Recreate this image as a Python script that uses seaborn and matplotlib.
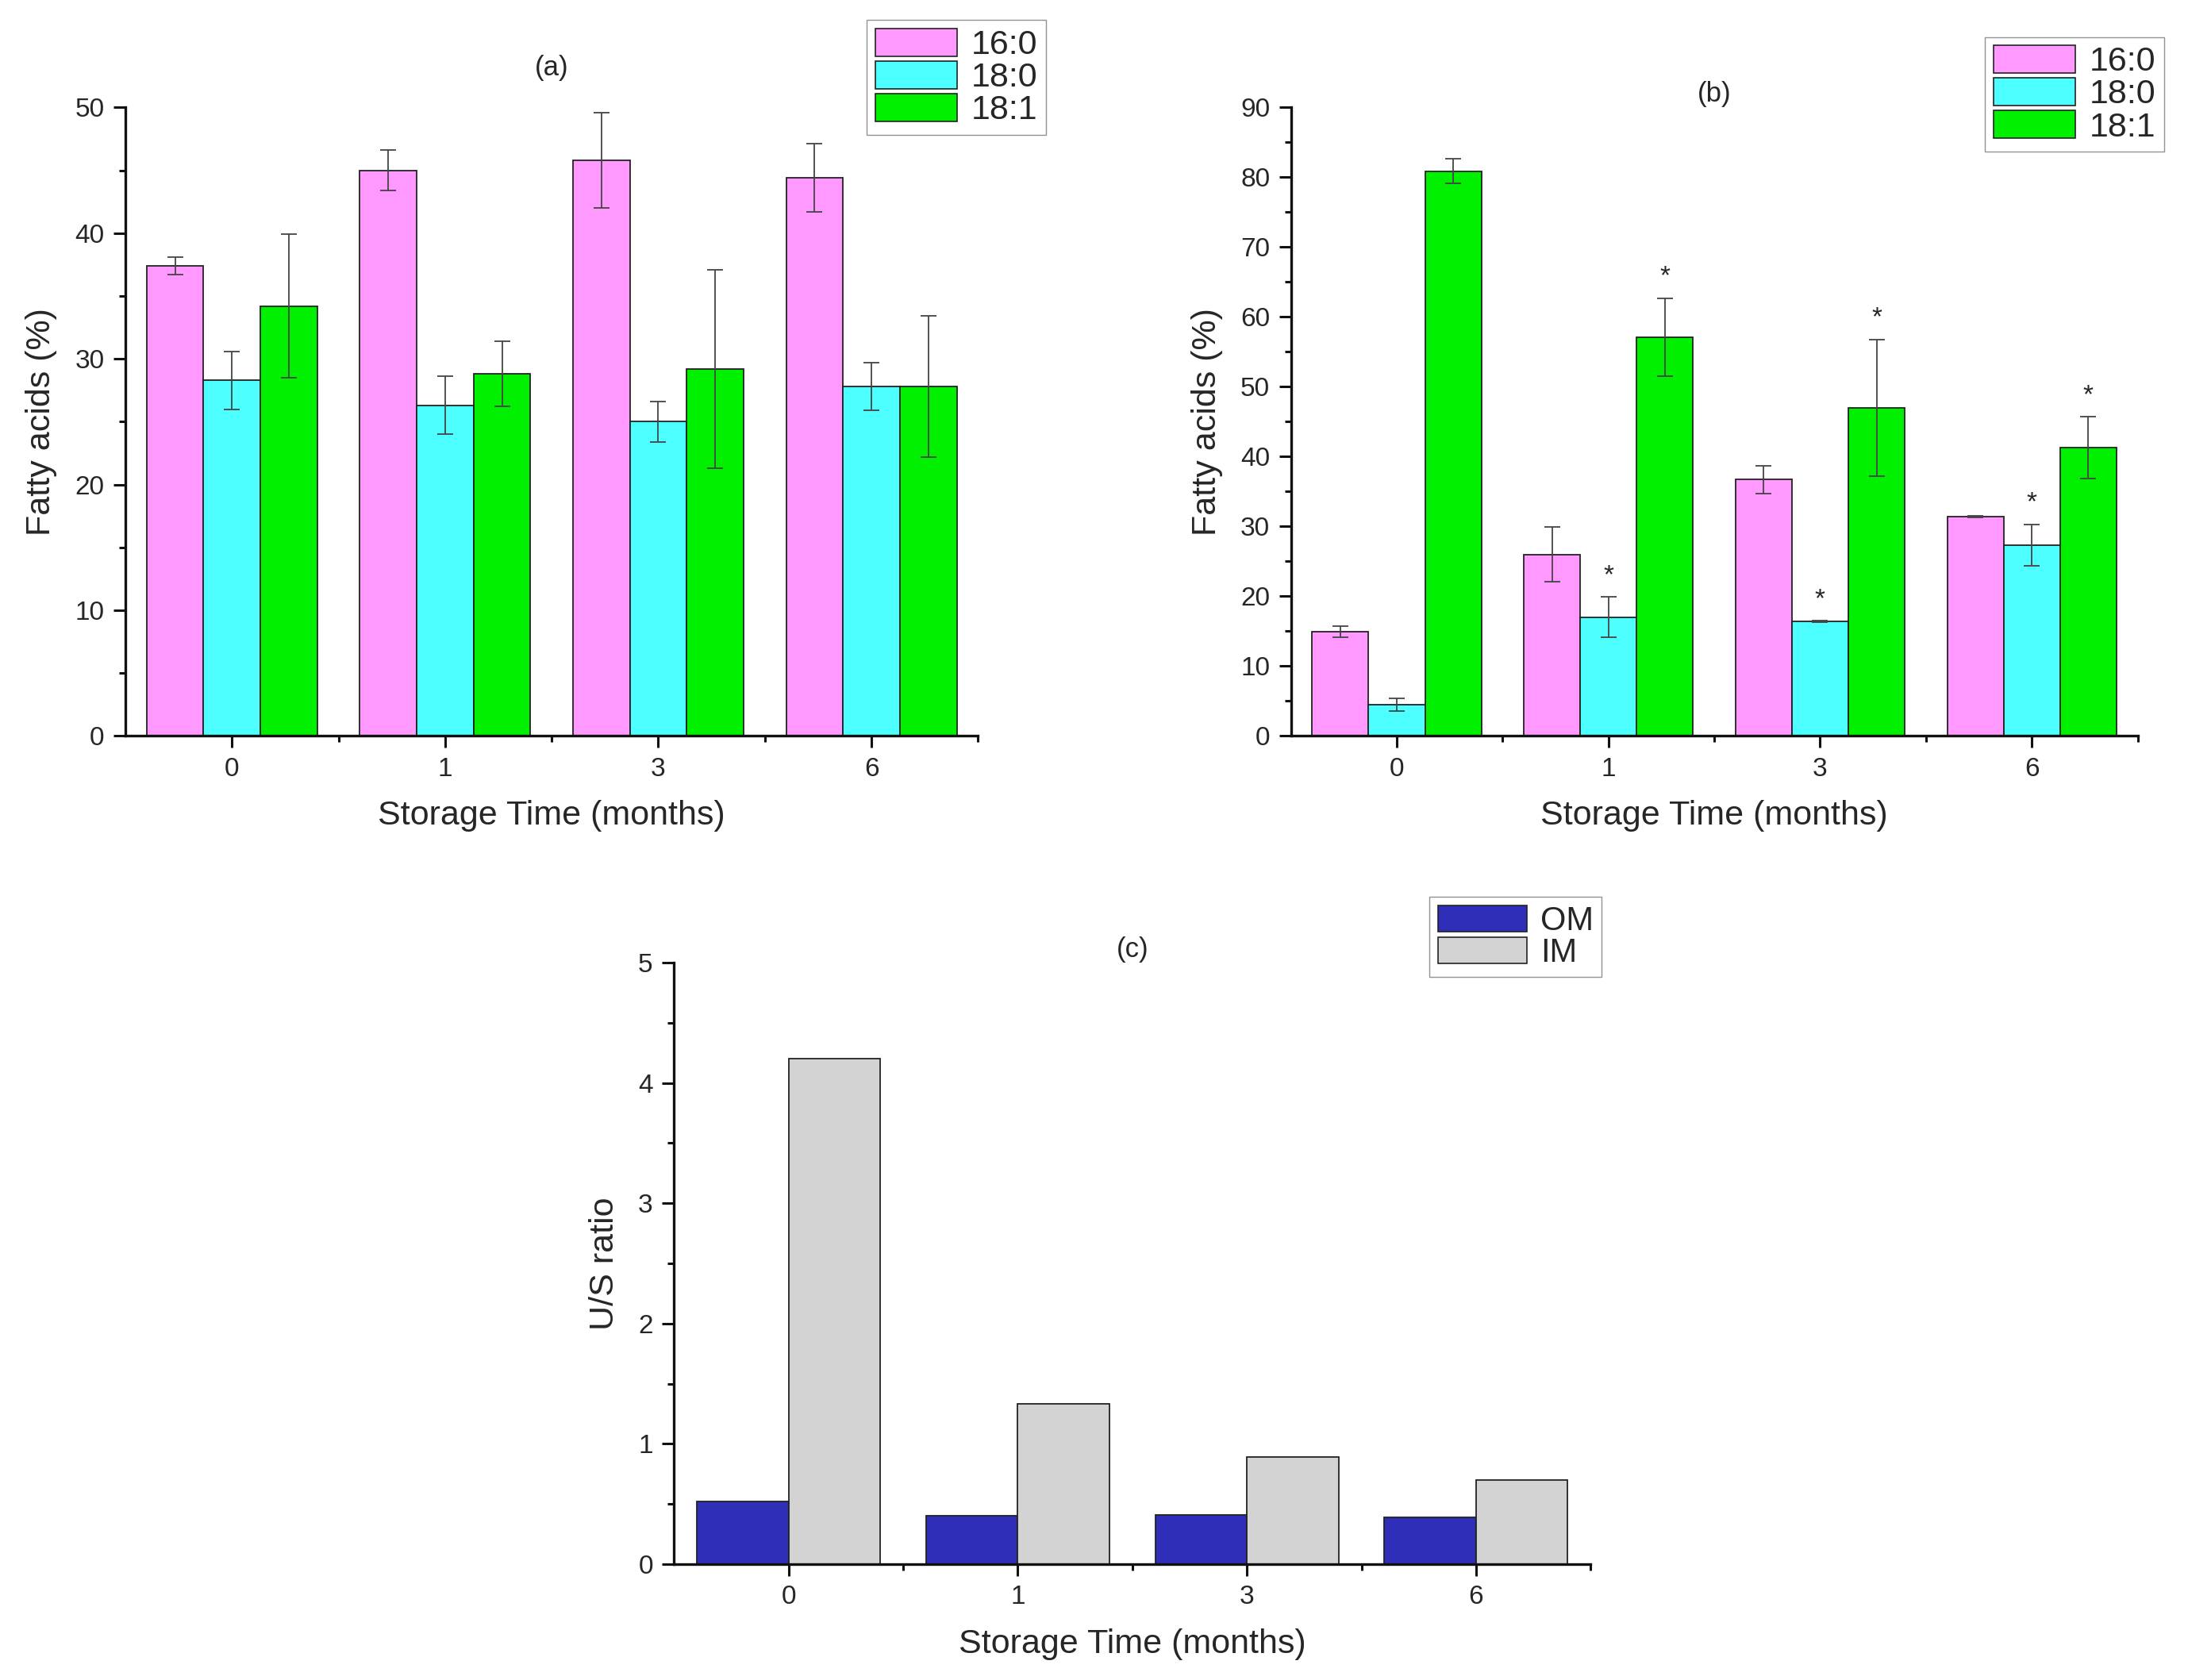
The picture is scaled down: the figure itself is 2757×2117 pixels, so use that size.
import numpy as np
import pandas as pd
import matplotlib
matplotlib.use("Agg")
import matplotlib.pyplot as plt
from matplotlib.patches import Patch
from matplotlib.ticker import MultipleLocator, FixedLocator
import seaborn as sns

# Storage time groups
months = ["0", "1", "3", "6"]
acids = ["16:0", "18:0", "18:1"]

# (a) fatty acids, mean and error
a_160 = [37.4, 45.0, 45.8, 44.4]
a_180 = [28.3, 26.3, 25.0, 27.8]
a_181 = [34.2, 28.8, 29.2, 27.8]
a_160_err = [0.7, 1.6, 3.8, 2.7]
a_180_err = [2.3, 2.3, 1.6, 1.9]
a_181_err = [5.7, 2.6, 7.9, 5.6]

# (b) fatty acids, mean and error
b_160 = [14.9, 26.0, 36.7, 31.4]
b_180 = [4.5, 17.0, 16.4, 27.3]
b_181 = [80.9, 57.1, 47.0, 41.3]
b_160_err = [0.8, 3.9, 2.0, 0.1]
b_180_err = [0.9, 2.9, 0.1, 3.0]
b_181_err = [1.8, 5.6, 9.8, 4.4]
# significance marks (acid, month)
b_stars = [("18:0", "1"), ("18:0", "3"), ("18:0", "6"),
           ("18:1", "1"), ("18:1", "3"), ("18:1", "6")]

# (c) U/S ratio
groups_c = ["OM", "IM"]
c_om = [0.52, 0.40, 0.41, 0.39]
c_im = [4.20, 1.33, 0.89, 0.70]

acid_colors = ["#FF99FF", "#4DFFFF", "#00F000"]
c_colors = ["#2E2EB8", "#D3D3D3"]

sns.set_style("ticks")
plt.rcParams["font.family"] = ["Liberation Sans", "DejaVu Sans"]

TICK_FS = 24
TITLE_FS = 25
LABEL_FS = 31
LEG_FS = 31
EDGE = "#222222"


def long_df(series, names, errs=None):
    rows = []
    for i, name in enumerate(names):
        for j, m in enumerate(months):
            row = {"month": m, "group": name, "value": series[i][j]}
            if errs is not None:
                row["err"] = errs[i][j]
            rows.append(row)
    return pd.DataFrame(rows)


def style_axis(ax, major, minor, ylim, ylabel):
    ax.set_xlim(-0.5, 3.5)
    ax.set_ylim(*ylim)
    ax.yaxis.set_major_locator(MultipleLocator(major))
    ax.yaxis.set_minor_locator(MultipleLocator(minor))
    ax.set_xticks(range(len(months)))
    ax.set_xticklabels(months)
    ax.xaxis.set_minor_locator(FixedLocator([0.5, 1.5, 2.5, 3.5]))
    sns.despine(ax=ax)
    for s in ["left", "bottom"]:
        ax.spines[s].set_linewidth(2.4)
        ax.spines[s].set_color("#111111")
    ax.tick_params(which="major", direction="out", length=11, width=2.2,
                   labelsize=TICK_FS, pad=8, color="#111111")
    ax.tick_params(which="minor", direction="out", length=6, width=2.2,
                   color="#111111")
    ax.set_xlabel("Storage Time (months)", fontsize=LABEL_FS, labelpad=17)
    ax.set_ylabel(ylabel, fontsize=LABEL_FS, labelpad=16)


def add_legend(ax, colors, names, anchor, fs, hl):
    handles = [Patch(facecolor=c, edgecolor=EDGE, linewidth=1.2) for c in colors]
    ax.legend(handles, names, loc="upper right", bbox_to_anchor=anchor,
              bbox_transform=ax.figure.transFigure, fontsize=fs,
              frameon=True, fancybox=False, edgecolor="#777777",
              handlelength=hl, handleheight=0.85, labelspacing=0.0,
              handletextpad=0.4, borderpad=0.25, borderaxespad=0)


def fatty_panel(ax, df, title, ylim, title_pad, legend_anchor, stars=None):
    sns.barplot(data=df, x="month", y="value", hue="group", order=months,
                hue_order=acids, palette=acid_colors, errorbar=None,
                edgecolor=EDGE, linewidth=1.3, saturation=1, legend=False, ax=ax)
    tops = {}
    for cont, acid in zip(ax.containers, acids):
        sub = df[df["group"] == acid].set_index("month").loc[months]
        xs = [p.get_x() + p.get_width() / 2 for p in cont.patches]
        ax.errorbar(xs, sub["value"], yerr=sub["err"], fmt="none",
                    ecolor="#444444", elinewidth=1.3, capsize=7, capthick=1.3)
        for x, m, v, e in zip(xs, months, sub["value"], sub["err"]):
            tops[(acid, m)] = (x, v + e)
    if stars:
        for key in stars:
            x, y = tops[key]
            ax.annotate("*", (x, y), xytext=(0, 8), textcoords="offset points",
                        ha="center", va="bottom", fontsize=24)
    style_axis(ax, 10, 5, ylim, "Fatty acids (%)")
    ax.set_title(title, fontsize=TITLE_FS, pad=title_pad)
    add_legend(ax, acid_colors, acids, legend_anchor, LEG_FS, 2.4)


fig = plt.figure(figsize=(27.57, 21.17), dpi=100)
ax_a = fig.add_axes([0.0573, 0.562, 0.3897, 0.374])
ax_b = fig.add_axes([0.590, 0.562, 0.387, 0.374])
ax_c = fig.add_axes([0.308, 0.069, 0.419, 0.358])

df_a = long_df([a_160, a_180, a_181], acids, [a_160_err, a_180_err, a_181_err])
df_b = long_df([b_160, b_180, b_181], acids, [b_160_err, b_180_err, b_181_err])
df_c = long_df([c_om, c_im], groups_c)

fatty_panel(ax_a, df_a, "(a)", (0, 50), 29, (0.478, 0.988))
fatty_panel(ax_b, df_b, "(b)", (0, 90), 0, (0.989, 0.978), stars=b_stars)

sns.barplot(data=df_c, x="month", y="value", hue="group", order=months,
            hue_order=groups_c, palette=c_colors, errorbar=None,
            edgecolor=EDGE, linewidth=1.3, saturation=1, legend=False, ax=ax_c)
style_axis(ax_c, 1, 0.5, (0, 5), "U/S ratio")
ax_c.set_title("(c)", fontsize=TITLE_FS, pad=2)
add_legend(ax_c, c_colors, groups_c, (0.732, 0.466), LEG_FS - 1, 2.7)

fig.savefig("out.png", dpi=100, facecolor="white")
